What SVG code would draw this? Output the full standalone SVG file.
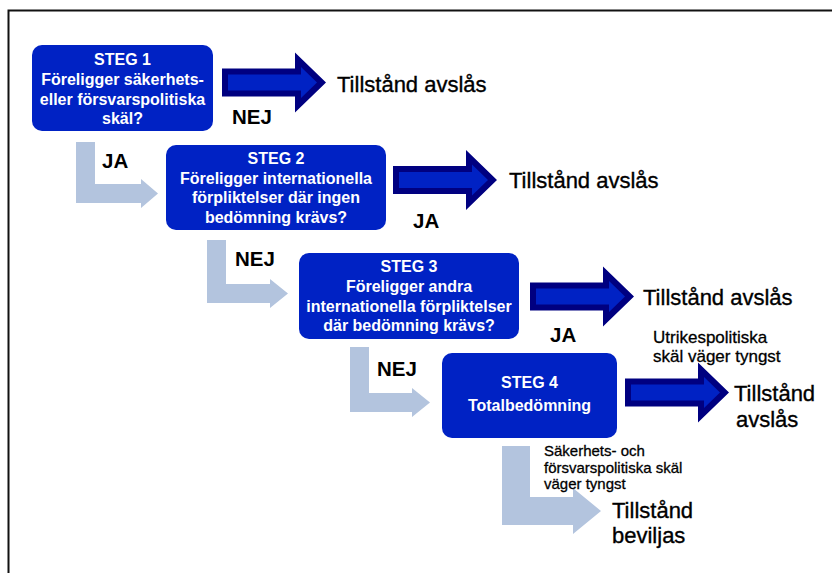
<svg xmlns="http://www.w3.org/2000/svg" width="832" height="573" viewBox="0 0 832 573">
<defs>
<style>
.box{fill:#0022C4}
.bt{fill:#fff;font-family:"Liberation Sans",Arial,sans-serif;font-weight:bold;font-size:16px;text-anchor:middle}
.lbl{fill:#000;font-family:"Liberation Sans",Arial,sans-serif;font-weight:bold;font-size:20.5px}
.res{fill:#000;stroke:#000;stroke-width:0.35;font-family:"Liberation Sans",Arial,sans-serif;font-size:22px}
.sm{fill:#000;stroke:#000;stroke-width:0.3;font-family:"Liberation Sans",Arial,sans-serif}
.out{fill:#000080}
.in{fill:#0022C4}
.light{fill:#B3C4DE}
</style>
<g id="bigArrow">
<polygon class="out" points="0,-14 73,-14 73,-30 104,0 73,30 73,14 0,14"/>
<polygon class="in" points="6,-8 79,-8 79,-15.5 95,0 79,15.5 79,8 6,8"/>
</g>
</defs>
<rect width="832" height="573" fill="#fff"/>
<path d="M8.5 573 V10.5 H832" fill="none" stroke="#111" stroke-width="2"/>

<g id="connectors">
<use href="#bigArrow" transform="translate(222,82.5)"/>
<use href="#bigArrow" transform="translate(393,180)"/>
<use href="#bigArrow" transform="translate(530,296.5)"/>
<use href="#bigArrow" transform="translate(625,392.5)"/>
<polygon class="light" points="76,142 95,142 95,184 141,184 141,179 158,193.5 141,208 141,203 76,203"/>
<polygon class="light" points="207,240 226,240 226,284 270,284 270,279 288,293.5 270,308 270,303 207,303"/>
<polygon class="light" points="350,347 369,347 369,393 412,393 412,388 430,402.5 412,417 412,412 350,412"/>
<polygon class="light" points="502,446 530,446 530,497 573,497 573,488 601,511 573,534 573,525 502,525"/>
<text class="lbl" x="232" y="124">NEJ</text>
<text class="lbl" x="102" y="168">JA</text>
<text class="lbl" x="413" y="228">JA</text>
<text class="lbl" x="235" y="266">NEJ</text>
<text class="lbl" x="550" y="342">JA</text>
<text class="lbl" x="377" y="376">NEJ</text>
</g>

<g id="steg1">
<rect class="box" x="32" y="45" width="181" height="86" rx="10"/>
<text class="bt" x="122.5" y="65">STEG 1</text>
<text class="bt" x="122.5" y="85">Föreligger säkerhets-</text>
<text class="bt" x="122.5" y="104.5">eller försvarspolitiska</text>
<text class="bt" x="122.5" y="124">skäl?</text>
</g>
<g id="steg2">
<rect class="box" x="166" y="145" width="220" height="85" rx="10"/>
<text class="bt" x="276" y="163.5">STEG 2</text>
<text class="bt" x="276" y="183.5">Föreligger internationella</text>
<text class="bt" x="276" y="203">förpliktelser där ingen</text>
<text class="bt" x="276" y="222.5">bedömning krävs?</text>
</g>
<g id="steg3">
<rect class="box" x="299" y="253" width="220" height="86" rx="10"/>
<text class="bt" x="409" y="272">STEG 3</text>
<text class="bt" x="409" y="292">Föreligger andra</text>
<text class="bt" x="409" y="311.5">internationella förpliktelser</text>
<text class="bt" x="409" y="331">där bedömning krävs?</text>
</g>
<g id="steg4">
<rect class="box" x="442" y="353" width="175" height="85" rx="10"/>
<text class="bt" x="529.5" y="388">STEG 4</text>
<text class="bt" x="529.5" y="411">Totalbedömning</text>
</g>

<g id="res1"><text class="res" x="337" y="92">Tillstånd avslås</text></g>
<g id="res2"><text class="res" x="509" y="188">Tillstånd avslås</text></g>
<g id="res3"><text class="res" x="643" y="305">Tillstånd avslås</text></g>
<g id="res4">
<text class="sm" font-size="17" x="653" y="343">Utrikespolitiska</text>
<text class="sm" font-size="17" x="653" y="362">skäl väger tyngst</text>
<text class="res" x="734" y="401">Tillstånd</text>
<text class="res" x="736" y="427">avslås</text>
</g>
<g id="res5">
<text class="sm" font-size="15" x="544" y="456">Säkerhets- och</text>
<text class="sm" font-size="15" x="544" y="473">försvarspolitiska skäl</text>
<text class="sm" font-size="15" x="544" y="489">väger tyngst</text>
<text class="res" x="612" y="518">Tillstånd</text>
<text class="res" x="612" y="543">beviljas</text>
</g>
</svg>
